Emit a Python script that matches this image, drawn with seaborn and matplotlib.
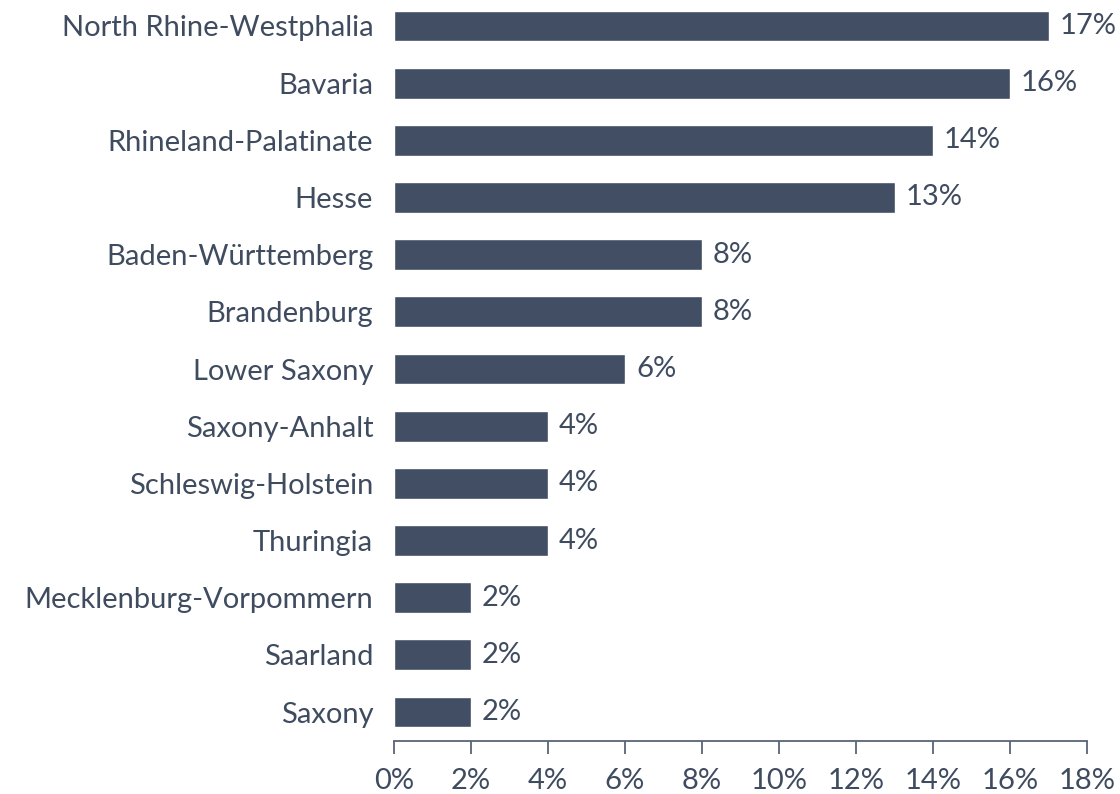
import matplotlib
matplotlib.use("Agg")
import matplotlib.pyplot as plt
import seaborn as sns
import pandas as pd
from matplotlib.ticker import FuncFormatter

states = ["North Rhine-Westphalia", "Bavaria", "Rhineland-Palatinate", "Hesse",
          "Baden-Württemberg", "Brandenburg", "Lower Saxony", "Saxony-Anhalt",
          "Schleswig-Holstein", "Thuringia", "Mecklenburg-Vorpommern", "Saarland", "Saxony"]
shares = [17, 16, 14, 13, 8, 8, 6, 4, 4, 4, 2, 2, 2]
xticks = [0, 2, 4, 6, 8, 10, 12, 14, 16, 18]

sns.set_theme(style="white")
plt.rcParams['font.family'] = ['Lato', 'DejaVu Sans']

BAR = "#424e63"
TXT = "#3f4b5f"
FS = 21

df = pd.DataFrame({"state": states, "share": shares})

fig = plt.figure(figsize=(11.2, 7.94), dpi=100)
ax = fig.add_axes([394/1120, (794-740.6)/794, (1087-394)/1120, (740.6+2.6)/794])
sns.barplot(data=df, y="state", x="share", color=BAR, width=0.54, ax=ax,
            orient="h", saturation=1)

ax.set_xlim(0, 18)
ax.set_ylim(12.5, -0.5)
ax.set_xticks(xticks)
ax.xaxis.set_major_formatter(FuncFormatter(lambda v, p: f"{int(v)}%"))
ax.set_xlabel("")
ax.set_ylabel("")
for s in ["top", "right", "left"]:
    ax.spines[s].set_visible(False)
ax.spines["bottom"].set_color("#5a6477")
ax.spines["bottom"].set_linewidth(1.3)
ax.tick_params(axis="x", bottom=True, direction="out", length=9, width=1.3,
               color="#5a6477", labelcolor=TXT, labelsize=FS, pad=11)
ax.tick_params(axis="y", left=False, labelcolor=TXT, labelsize=FS, pad=9)

for c in ax.containers:
    ax.bar_label(c, labels=[f"{v}%" for v in shares], padding=8,
                 fontsize=FS, color=TXT)

fig.savefig("out.png", dpi=100)
